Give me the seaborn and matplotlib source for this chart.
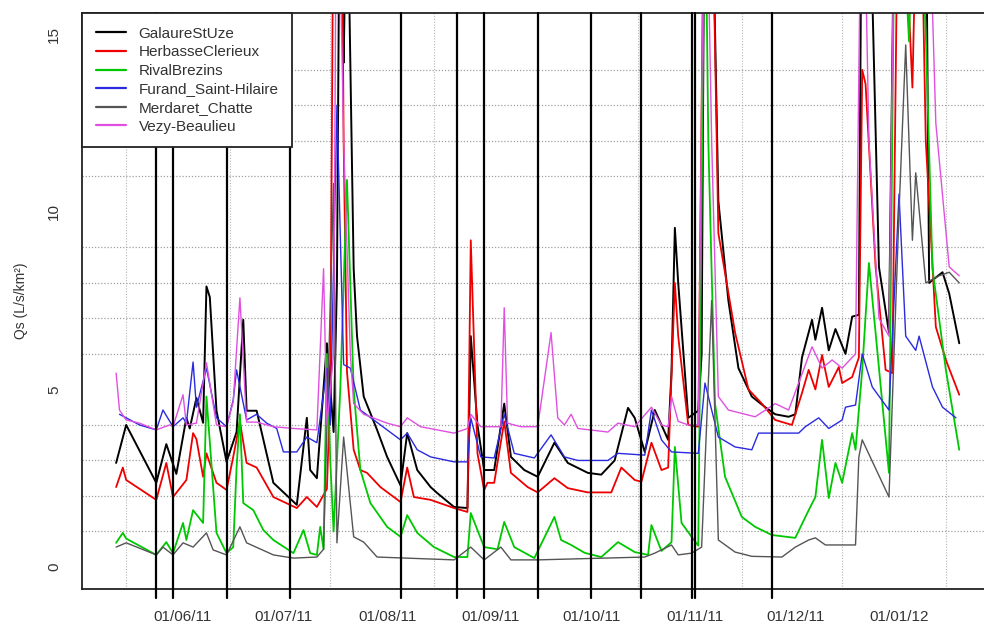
import numpy as np
import pandas as pd
import matplotlib
matplotlib.use("Agg")
import matplotlib.pyplot as plt
import matplotlib.dates as mdates
from matplotlib.lines import Line2D
from matplotlib.ticker import FixedLocator, MultipleLocator, NullFormatter
import seaborn as sns

sns.set_style("white")
plt.rcParams['font.family'] = ['Liberation Sans', 'DejaVu Sans']

# ---------------- data (day offsets from origin, Qs in L/s/km2) ----------------
origin = "2011-06-01"

stations = ["GalaureStUze", "HerbasseClerieux", "RivalBrezins",
            "Furand_Saint-Hilaire", "Merdaret_Chatte", "Vezy-Beaulieu"]
station_colors = ["black", "#EE0000", "#00C800", "#2A2AE0", "#555555", "#E050E0"]

days_galaure = [-20, -17, -8, -5, -2, 1, 2, 4, 6, 7, 8, 10, 13, 16, 18, 19, 22, 27, 34, 37,
                38, 40, 43, 45, 46, 47, 48, 49, 51, 52, 54, 58, 61, 65, 67, 70, 74, 76, 81, 85,
                86, 88, 90, 93, 96, 98, 102, 106, 111, 115, 121, 125, 129, 133, 135, 138, 141, 145, 146, 147,
                148, 151, 154, 155, 156, 158, 160, 163, 166, 170, 174, 177, 181, 183, 185, 188, 189, 191, 193, 195,
                198, 200, 202, 203, 205, 208, 211, 213, 216, 220, 222, 223, 227, 229, 232]
qs_galaure = [2.93, 4.0, 2.37, 3.46, 2.62, 4.2, 3.9, 4.76, 4.06, 7.9, 7.6, 4.4, 2.96, 3.8, 6.96, 4.4, 4.4, 2.37, 1.75, 4.2,
              2.73, 2.5, 6.3, 3.8, 8.0, 22, 14.2, 20, 8.4, 6.5, 4.8, 3.86, 3.1, 2.3, 3.77, 2.73, 2.25, 2.08, 1.69, 1.66,
              6.5, 4.0, 2.73, 2.73, 4.6, 3.1, 2.73, 2.54, 3.5, 2.93, 2.65, 2.6, 3.0, 4.48, 4.2, 3.24, 4.42, 3.58, 5.5, 9.55,
              8.0, 4.2, 4.4, 6.0, 22, 20, 10.3, 7.5, 5.6, 4.8, 4.5, 4.3, 4.23, 4.3, 5.9, 6.96, 6.4, 7.3, 6.1, 6.7,
              6.0, 7.05, 7.1, 22, 20, 8.45, 6.6, 22, 30, 30, 20, 8.0, 8.3, 7.7, 6.3]

days_herbasse = [-20, -18, -17, -8, -5, -3, 1, 3, 4, 6, 7, 10, 13, 15, 17, 19, 22, 27, 34, 37,
                 40, 43, 44, 45, 47, 48, 49, 51, 53, 55, 59, 65, 67, 69, 74, 81, 85, 86, 88, 90,
                 91, 93, 96, 98, 103, 106, 111, 115, 121, 128, 131, 135, 137, 140, 143, 145, 147, 148, 151, 154,
                 156, 158, 160, 165, 169, 173, 177, 182, 185, 187, 189, 191, 193, 196, 197, 200, 202, 203, 204, 207,
                 210, 212, 214, 218, 220, 222, 225, 228, 232]
qs_herbasse = [2.25, 2.8, 2.45, 1.89, 2.93, 1.97, 2.45, 3.77, 3.6, 2.54, 3.2, 2.37, 2.17, 3.1, 4.1, 2.93, 2.8, 1.97, 1.66, 1.97,
               1.69, 2.2, 5.0, 20, 25, 12, 5.5, 3.3, 2.73, 2.65, 2.25, 1.83, 2.8, 1.97, 1.89, 1.66, 1.55, 9.2, 3.2, 2.17,
               2.37, 2.37, 4.1, 2.65, 2.25, 2.1, 2.5, 2.22, 2.1, 2.1, 2.8, 2.45, 2.4, 3.5, 2.73, 2.8, 8.0, 6.5, 4.0, 3.95,
               22, 20, 9.4, 6.6, 5.0, 4.6, 4.14, 4.0, 4.9, 5.55, 5.0, 5.97, 5.07, 5.63, 5.18, 5.35, 5.9, 14.0, 13.6, 8.45,
               5.55, 5.46, 22, 13.5, 22, 12, 6.76, 5.83, 4.85]

days_rival = [-20, -18, -17, -8, -5, -3, 0, 1, 3, 6, 7, 10, 13, 15, 16, 17, 18, 21, 24, 27,
              33, 36, 38, 40, 41, 42, 43, 44, 45, 47, 49, 51, 53, 56, 61, 65, 67, 70, 75, 81,
              85, 86, 90, 94, 96, 99, 105, 111, 113, 116, 120, 125, 130, 135, 139, 140, 143, 146, 147, 149,
              152, 154, 156, 157, 159, 162, 167, 171, 176, 183, 187, 189, 191, 193, 195, 197, 200, 201, 203, 205,
              211, 213, 217, 219, 222, 224, 228, 232]
qs_rival = [0.68, 0.96, 0.8, 0.34, 0.7, 0.39, 1.24, 0.76, 1.6, 1.24, 4.8, 0.96, 0.39, 0.56, 2.8, 4.3, 1.8, 1.6, 1.04, 0.76,
            0.39, 1.04, 0.39, 0.34, 1.13, 0.5, 6.0, 3.0, 1.0, 5.0, 10.9, 5.0, 2.73, 1.8, 1.13, 0.85, 1.46, 0.96, 0.56, 0.28,
            0.28, 1.52, 0.56, 0.5, 1.27, 0.56, 0.25, 1.41, 0.76, 0.62, 0.4, 0.28, 0.7, 0.42, 0.34, 1.18, 0.45, 0.7, 3.38, 1.24,
            0.85, 0.6, 20, 12, 4.6, 2.54, 1.41, 1.13, 0.9, 0.82, 1.6, 1.97, 3.58, 1.94, 2.93, 2.37, 3.77, 3.3, 5.55, 8.56,
            2.65, 22, 14.8, 22, 15, 8.4, 5.55, 3.3]

days_furand = [-19, -13, -8, -6, -3, 0, 1, 3, 4, 7, 10, 13, 15, 16, 19, 22, 25, 28, 30, 34,
               37, 40, 43, 44, 46, 48, 50, 53, 61, 65, 67, 70, 74, 81, 85, 86, 89, 93, 96, 99,
               105, 110, 114, 118, 127, 130, 138, 140, 143, 146, 154, 156, 160, 165, 170, 172, 176, 184, 186, 190,
               193, 197, 198, 201, 203, 206, 211, 214, 216, 219, 220, 224, 227, 231]
qs_furand = [4.3, 4.0, 3.86, 4.42, 3.95, 4.2, 4.05, 5.77, 4.5, 5.6, 4.2, 3.95, 4.7, 5.55, 4.14, 4.3, 4.05, 3.9, 3.24, 3.24,
             3.66, 3.5, 5.6, 4.0, 13.0, 5.7, 5.6, 4.42, 3.86, 3.58, 3.77, 3.3, 3.1, 2.96, 2.96, 4.2, 3.1, 3.07, 4.3, 3.2,
             3.07, 3.72, 3.1, 3.0, 3.0, 3.2, 3.15, 4.42, 3.58, 3.24, 3.2, 5.18, 3.66, 3.38, 3.3, 3.77, 3.77, 3.77, 3.95, 4.2,
             3.9, 4.14, 4.5, 4.56, 6.0, 5.07, 4.42, 10.5, 6.5, 6.1, 6.5, 5.07, 4.5, 4.2]

days_merdaret = [-20, -17, -8, -6, -3, 0, 3, 7, 9, 13, 17, 19, 27, 33, 40, 42, 45, 46, 48, 51,
                 54, 58, 81, 86, 90, 95, 98, 106, 138, 141, 146, 148, 152, 155, 158, 160, 165, 170, 179, 183,
                 187, 189, 192, 201, 202, 203, 211, 214, 216, 218, 219, 222, 226, 229, 232]
qs_merdaret = [0.56, 0.68, 0.34, 0.56, 0.34, 0.68, 0.56, 0.96, 0.48, 0.34, 1.13, 0.68, 0.34, 0.25, 0.28, 0.5, 10.8, 0.68, 3.66, 0.85,
               0.7, 0.28, 0.2, 0.56, 0.2, 0.56, 0.2, 0.2, 0.28, 0.39, 0.62, 0.34, 0.39, 0.56, 7.5, 0.76, 0.42, 0.3, 0.28, 0.56,
               0.76, 0.82, 0.62, 0.62, 3.1, 3.58, 1.97, 10.0, 14.7, 9.2, 11.1, 8.0, 8.2, 8.3, 8.0]

days_vezy = [-20, -19, -17, -13, -8, -4, -3, 0, 1, 4, 7, 10, 13, 15, 17, 19, 22, 27, 33, 40,
             42, 43, 45, 46, 48, 50, 51, 54, 61, 65, 67, 71, 81, 85, 86, 89, 95, 96, 97, 101,
             106, 110, 112, 114, 116, 118, 127, 130, 135, 140, 143, 145, 146, 148, 151, 154, 156, 158, 160, 163,
             171, 177, 181, 184, 188, 191, 194, 197, 201, 203, 205, 208, 211, 213, 222, 225, 229, 232]
qs_vezy = [5.46, 4.42, 4.14, 4.05, 3.86, 4.0, 3.95, 4.85, 4.0, 4.05, 5.75, 4.0, 3.95, 4.65, 7.58, 4.08, 4.08, 3.95, 3.9, 3.86,
           8.4, 4.0, 6.0, 22, 12, 6.0, 4.6, 4.3, 4.05, 3.95, 4.2, 3.95, 3.77, 3.9, 4.3, 3.95, 3.95, 7.3, 4.05, 3.95,
           3.95, 6.6, 4.2, 4.0, 4.3, 3.9, 3.8, 4.05, 3.95, 4.5, 4.0, 3.95, 4.8, 4.1, 4.0, 4.0, 22, 12, 4.8, 4.42,
           4.23, 4.6, 4.42, 5.18, 6.2, 5.6, 5.83, 5.6, 6.0, 22, 12, 7.0, 6.5, 22, 22, 12.5, 8.45, 8.2]

event_dates = ["2011-05-24", "2011-05-29", "2011-06-14", "2011-07-03", "2011-08-05",
               "2011-08-22", "2011-08-30", "2011-09-15", "2011-10-01", "2011-10-16",
               "2011-10-31", "2011-11-01", "2011-11-24"]

month_ticks = ["2011-06-01", "2011-07-01", "2011-08-01", "2011-09-01",
               "2011-10-01", "2011-11-01", "2011-12-01", "2012-01-01"]
month_labels = ["01/06/11", "01/07/11", "01/08/11", "01/09/11",
                "01/10/11", "01/11/11", "01/12/11", "01/01/12"]

y_ticks = [0, 5, 10, 15]
y_label = "Qs (L/s/km²)"

series_days = [days_galaure, days_herbasse, days_rival, days_furand, days_merdaret, days_vezy]
series_qs = [qs_galaure, qs_herbasse, qs_rival, qs_furand, qs_merdaret, qs_vezy]
line_widths = [1.4, 1.3, 1.3, 1.0, 1.0, 1.0]

# ---------------- build table ----------------
t0 = pd.Timestamp(origin)
frames = []
for name, d, q in zip(stations, series_days, series_qs):
    frames.append(pd.DataFrame({"date": t0 + pd.to_timedelta(np.array(d, dtype=float), unit="D"),
                                "Qs": q, "station": name}))
df = pd.concat(frames, ignore_index=True)

# ---------------- figure ----------------
W, H = 984, 624
fig = plt.figure(figsize=(W / 100, H / 100), dpi=100)
ax = fig.add_axes([82 / W, 1 - 589 / H, 1 - 82 / W, (589 - 13) / H])

for name, col, lw in zip(stations, station_colors, line_widths):
    sub = df[df["station"] == name]
    sns.lineplot(data=sub, x="date", y="Qs", color=col, linewidth=lw, ax=ax,
                 estimator=None, legend=False, zorder=2)

for d in event_dates:
    ax.axvline(pd.Timestamp(d), ymin=-9 / 576, ymax=1, color="black", lw=1.6,
               clip_on=False, zorder=3)

ax.set_xlim(t0 - pd.Timedelta(days=30.2), t0 + pd.Timedelta(days=239.4))
ax.set_ylim(-0.62, 15.6)

# grid
ax.xaxis.set_major_locator(FixedLocator(mdates.date2num(pd.to_datetime(month_ticks))))
ax.set_xticklabels(month_labels)
ax.xaxis.set_minor_locator(mdates.DayLocator(bymonthday=[1, 15]))
ax.xaxis.set_minor_formatter(NullFormatter())
ax.yaxis.set_major_locator(FixedLocator(y_ticks))
ax.yaxis.set_minor_locator(MultipleLocator(1))
ax.grid(which="minor", axis="x", color="#B5B5B5", lw=0.8, linestyle=(0, (1, 1.5)), zorder=0)
ax.grid(which="minor", axis="y", color="#A0A0A0", lw=0.9, linestyle=(0, (1, 1.5)), zorder=0)
ax.grid(which="major", visible=False)
ax.set_axisbelow(True)

ax.tick_params(axis="x", which="major", length=6, width=1, color="#888888", pad=9,
               labelsize=11, labelcolor="#333333")
ax.tick_params(axis="y", which="major", length=6, width=1, color="#333333", pad=9,
               labelsize=11, labelcolor="#333333", labelrotation=90)
for lab in ax.get_yticklabels():
    lab.set_va("center")
ax.tick_params(which="minor", length=0)

ax.set_xlabel("")
ax.set_ylabel(y_label, fontsize=10, color="#333333", labelpad=14)

for s in ["left", "bottom", "top"]:
    ax.spines[s].set_color("#222222")
    ax.spines[s].set_linewidth(1.3)
ax.spines["right"].set_visible(False)

handles = [Line2D([0], [0], color=c, lw=1.6) for c in station_colors]
leg = ax.legend(handles, stations, loc="upper left", borderaxespad=0, fontsize=11,
                frameon=True, fancybox=False, framealpha=1, edgecolor="#222222",
                handlelength=2.0, handletextpad=0.8, labelspacing=0.3, borderpad=0.9)
leg.get_frame().set_linewidth(1.3)
leg.set_zorder(10)
for t in leg.get_texts():
    t.set_color("#333333")

fig.savefig("out.png", dpi=100)
